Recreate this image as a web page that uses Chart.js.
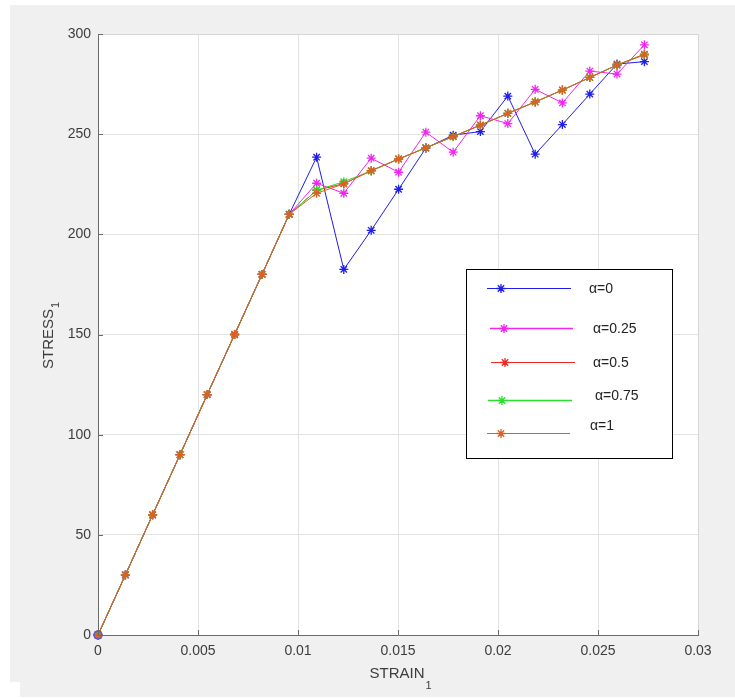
<!DOCTYPE html>
<html>
<head>
<meta charset="utf-8">
<script src="https://cdn.jsdelivr.net/npm/chart.js@4.4.0/dist/chart.umd.min.js"></script>
<style>
  html, body { margin: 0; padding: 0; background: #fff; }
  #wrap { width: 735px; height: 698px; }
</style>
</head>
<body>
<div id="wrap"><canvas id="stressChart" width="735" height="698"></canvas></div>
<script>
// Stress-strain curves for several alpha values
const strain = [0, 0.00137, 0.00273, 0.0041, 0.00546, 0.00683, 0.0082, 0.00956, 0.01093, 0.01229,
  0.01366, 0.01503, 0.01639, 0.01776, 0.01912, 0.02049, 0.02186, 0.02322, 0.02459, 0.02595, 0.02732]

const stressA0 = [0, 30, 60, 90, 120, 150, 180, 210, 238.5, 182.5, 202, 222.5, 243, 249.5, 251.3, 269, 240, 254.8, 270, 285, 286.2]
const stressA025 = [0, 30, 60, 90, 120, 150, 180, 210, 225.5, 220.5, 238, 231, 251, 241, 259.2, 255.3, 272.4, 265.6, 281.5, 280, 294.6]
const stressA05 = [0, 30, 60, 90, 120, 150, 180, 210, 222, 225.3, 231.8, 237.6, 243.2, 248.8, 254.5, 260.4, 266.1, 272, 278.3, 284.5, 289.6]
const stressA075 = [0, 30, 60, 90, 120, 150, 180, 210, 222, 226.3, 231.6, 237.6, 243.2, 248.8, 254.5, 260.4, 266.1, 272, 278.3, 284.5, 289.8]
const stressA1 = [0, 30, 60, 90, 120, 150, 180, 210, 220.5, 225.2, 231.8, 237.6, 243.2, 248.8, 254.5, 260.4, 266.1, 272, 278.3, 284.5, 290]

const seriesNames = ["α=0", "α=0.25", "α=0.5", "α=0.75", "α=1"]
const seriesColors = ["#1e1ee6", "#f026f0", "#ec2a22", "#2ede2e", "#dc5f25"]

const xTicks = [0, 0.005, 0.01, 0.015, 0.02, 0.025, 0.03]
const yTicks = [0, 50, 100, 150, 200, 250, 300]

const FONT = "'Liberation Sans', Arial, Helvetica, sans-serif"
const TEXT_COLOR = "#3c3c3c"

function toPoints(ys) {
  return strain.map((x, i) => ({ x: x, y: ys[i] }))
}

function makeSeries(idx, ys, order) {
  return {
    label: seriesNames[idx],
    data: toPoints(ys),
    showLine: true,
    borderColor: seriesColors[idx],
    backgroundColor: seriesColors[idx],
    borderWidth: 1,
    pointStyle: "star",
    pointRadius: 4.5,
    pointBorderWidth: 1.3,
    pointBorderColor: seriesColors[idx],
    tension: 0,
    clip: false,
    order: order,
  }
}

// gray figure background + white axes box
const backgroundPlugin = {
  id: "figureBackground",
  beforeDraw(chart) {
    const ctx = chart.ctx
    const a = chart.chartArea
    ctx.save()
    ctx.fillStyle = "#ffffff"
    ctx.fillRect(0, 0, chart.width, chart.height)
    ctx.fillStyle = "#f0f0f0"
    ctx.fillRect(10, 5, chart.width - 10, 677)
    ctx.fillRect(20, 682, chart.width - 20, 15)
    ctx.fillStyle = "#ffffff"
    ctx.fillRect(a.left, a.top, a.right - a.left, a.bottom - a.top)
    ctx.restore()
  },
}

// inward tick marks, light box edges, axis titles with subscripts
const framePlugin = {
  id: "axesFrame",
  afterDraw(chart) {
    const ctx = chart.ctx
    const a = chart.chartArea
    const xs = chart.scales.x
    const ys = chart.scales.y
    ctx.save()

    ctx.strokeStyle = "#d6d6d6"
    ctx.lineWidth = 1
    ctx.beginPath()
    ctx.moveTo(a.left, a.top + 0.5)
    ctx.lineTo(a.right + 0.5, a.top + 0.5)
    ctx.lineTo(a.right + 0.5, a.bottom)
    ctx.stroke()

    ctx.strokeStyle = "#6a6a6a"
    ctx.beginPath()
    yTicks.forEach((v) => {
      const py = Math.round(ys.getPixelForValue(v)) + 0.5
      ctx.moveTo(a.left, py)
      ctx.lineTo(a.left + 5, py)
    })
    xTicks.forEach((v) => {
      const px = Math.round(xs.getPixelForValue(v)) + 0.5
      ctx.moveTo(px, a.bottom)
      ctx.lineTo(px, a.bottom - 5)
    })
    ctx.stroke()

    ctx.fillStyle = TEXT_COLOR
    ctx.textBaseline = "alphabetic"

    // x title: STRAIN_1
    ctx.font = "15px " + FONT
    const xMain = "STRAIN"
    const wx = ctx.measureText(xMain).width
    const xStart = 397 - wx / 2
    ctx.fillText(xMain, xStart, 678)
    ctx.font = "11px " + FONT
    ctx.fillText("1", xStart + wx + 1, 689)

    // y title: STRESS_1 (rotated)
    ctx.font = "15px " + FONT
    const yMain = "STRESS"
    const wy = ctx.measureText(yMain).width
    ctx.translate(53, 339 + wy / 2)
    ctx.rotate(-Math.PI / 2)
    ctx.fillText(yMain, 0, 0)
    ctx.font = "11px " + FONT
    ctx.fillText("1", wy + 1, 6)
    ctx.restore()
  },
}

function drawStar(ctx, x, y, r) {
  const d = r * Math.SQRT1_2
  ctx.beginPath()
  ctx.moveTo(x, y - r); ctx.lineTo(x, y + r)
  ctx.moveTo(x - r, y); ctx.lineTo(x + r, y)
  ctx.moveTo(x - d, y - d); ctx.lineTo(x + d, y + d)
  ctx.moveTo(x - d, y + d); ctx.lineTo(x + d, y - d)
  ctx.stroke()
}

// legend box drawn inside the axes like the original
const legendPlugin = {
  id: "boxLegend",
  afterDraw(chart) {
    const ctx = chart.ctx
    const rows = [
      { lineY: 288, x0: 487, x1: 571, mx: 501, ty: 289, tx: 589 },
      { lineY: 328, x0: 490, x1: 573, mx: 504, ty: 329, tx: 593 },
      { lineY: 362, x0: 491, x1: 575, mx: 505, ty: 363, tx: 593 },
      { lineY: 400, x0: 488, x1: 572, mx: 502, ty: 396, tx: 595 },
      { lineY: 433, x0: 487, x1: 570, mx: 501, ty: 426, tx: 590 },
    ]
    ctx.save()
    ctx.fillStyle = "#ffffff"
    ctx.fillRect(466, 269, 207, 190)
    ctx.strokeStyle = "#000000"
    ctx.lineWidth = 1
    ctx.strokeRect(466.5, 269.5, 206, 189)

    ctx.font = "14px " + FONT
    ctx.textBaseline = "middle"
    rows.forEach((r, i) => {
      ctx.strokeStyle = seriesColors[i]
      ctx.lineWidth = i === 1 || i === 3 ? 1.6 : 1.2
      ctx.beginPath()
      ctx.moveTo(r.x0, r.lineY + 0.5)
      ctx.lineTo(r.x1, r.lineY + 0.5)
      ctx.stroke()
      ctx.lineWidth = 1.3
      drawStar(ctx, r.mx, r.lineY + 0.5, 4.5)
      ctx.fillStyle = "#222222"
      ctx.fillText(seriesNames[i], r.tx, r.ty)
    })
    ctx.restore()
  },
}

function tickLabel(v) {
  return String(Number(v.toFixed(3)))
}

const ctx = document.getElementById("stressChart")
new Chart(ctx, {
  type: "scatter",
  data: {
    datasets: [
      makeSeries(0, stressA0, 5),
      makeSeries(1, stressA025, 4),
      makeSeries(2, stressA05, 3),
      makeSeries(3, stressA075, 2),
      makeSeries(4, stressA1, 1),
      {
        label: "origin",
        data: [{ x: strain[0], y: stressA0[0] }],
        showLine: false,
        pointStyle: "circle",
        pointRadius: 4,
        pointBorderWidth: 1.4,
        borderColor: "#5b4fe0",
        backgroundColor: "rgba(0,0,0,0)",
        clip: false,
        order: 0,
      },
    ],
  },
  options: {
    responsive: false,
    animation: false,
    layout: { padding: { top: 34, right: 37, left: 0, bottom: 0 } },
    plugins: {
      legend: { display: false },
      tooltip: { enabled: false },
    },
    scales: {
      x: {
        type: "linear",
        min: 0,
        max: 0.03,
        afterBuildTicks: (s) => { s.ticks = xTicks.map((v) => ({ value: v })) },
        afterFit: (s) => { s.height = 63 },
        grid: { color: "#e2e2e2", drawTicks: false },
        border: { display: true, color: "#6a6a6a", width: 1 },
        ticks: {
          padding: 8,
          color: TEXT_COLOR,
          font: { family: FONT, size: 14 },
          maxRotation: 0,
          callback: (v) => tickLabel(v),
        },
      },
      y: {
        type: "linear",
        min: 0,
        max: 300,
        afterBuildTicks: (s) => { s.ticks = yTicks.map((v) => ({ value: v })) },
        afterFit: (s) => { s.width = 98 },
        grid: { color: "#e2e2e2", drawTicks: false },
        border: { display: true, color: "#6a6a6a", width: 1 },
        ticks: {
          padding: 7,
          color: TEXT_COLOR,
          font: { family: FONT, size: 14 },
          callback: (v) => String(v),
        },
      },
    },
  },
  plugins: [backgroundPlugin, framePlugin, legendPlugin],
})
</script>
</body>
</html>
